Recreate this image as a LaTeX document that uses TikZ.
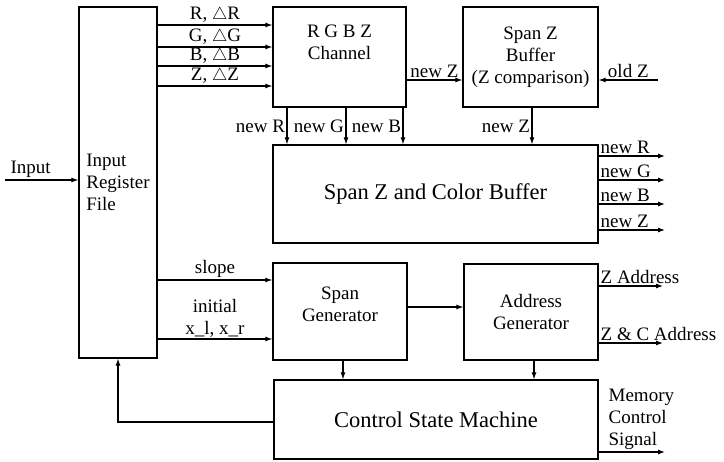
\documentclass[tikz,border=0pt]{standalone}
\usepackage{fontspec}
\setmainfont{Liberation Serif}
\usetikzlibrary{arrows.meta,positioning,calc}

\begin{document}
\begin{tikzpicture}[
  x=1pt, y=-1pt,
  block/.style={
    draw, line width=1.2pt, minimum width=134pt, minimum height=97pt,
    align=center, font=\fontsize{19}{22}\selectfont, inner sep=2pt,
  },
  bigblock/.style={
    block, font=\fontsize{22.5}{26}\selectfont,
  },
  sig/.style={-{Latex[length=7pt,width=5pt]}, line width=1.1pt},
  lbl/.style={font=\fontsize{19}{22}\selectfont, inner sep=1.5pt},
]
\useasboundingbox (0,0) rectangle (724,462);

% Blocks
\node[block, minimum width=78pt, minimum height=351pt, align=left] (irf) at (118,182.5) {Input\\Register\\File};
\node[block, minimum width=133pt, minimum height=100pt, text depth=29pt] (rgbz) at (339.5,57) {R G B Z\\Channel};
\node[block, minimum width=135pt, minimum height=100pt] (szb) at (530.5,57) {Span Z\\Buffer\\(Z comparison)};
\node[bigblock, minimum width=325pt, minimum height=98pt] (scb) at (435.5,194) {Span Z and Color Buffer};
\node[block, text depth=14pt] (sg) at (340,311.5) {Span\\Generator};
\node[block, minimum height=96pt] (ag) at (531,312) {Address\\Generator};
\node[bigblock, minimum width=324pt, minimum height=79pt] (csm) at (436,419.5) {Control State Machine};

% Input
\coordinate (inp) at (5,180);
\draw[sig] (inp) -- (inp -| irf.west) node[lbl, pos=0.35, above] {Input};

% Colour channels
\foreach \y/\c in {25/R, 47/G, 66/B, 86/Z}
  \draw[sig] (irf.east |- 0,\y) -- (rgbz.west |- 0,\y)
    node[lbl, midway, above] {\c, $\triangle$\c};

% Z comparison
\draw[sig] (rgbz.east |- 0,80) -- (szb.west |- 0,80) node[lbl, midway, above] {new Z};
\coordinate (oldz) at (658,80);
\draw[sig] (oldz) -- (oldz -| szb.east) node[lbl, midway, above] {old Z};

% New values into the buffer
\foreach \x/\c in {287/R, 346/G, 403/B}
  \draw[sig] (\x,0 |- rgbz.south) -- (\x,0 |- scb.north) node[lbl, midway, left] {new \c};
\draw[sig] (532,0 |- szb.south) -- (532,0 |- scb.north) node[lbl, midway, left] {new Z};

% Buffer outputs
\foreach \y/\c in {156/R, 180/G, 204/B, 230/Z} {
  \coordinate (out\c) at (665,\y);
  \draw[sig] (out\c -| scb.east) -- (out\c) node[lbl, pos=0, anchor=south west] {new \c};
}

% Span generator inputs
\draw[sig] (irf.east |- 0,280) -- (sg.west |- 0,280) node[lbl, midway, above] {slope};
\draw[sig] (irf.east |- 0,339) -- (sg.west |- 0,339)
  node[lbl, midway, above, align=center] {initial\\x\_l, x\_r};

% Addresses
\draw[sig] (sg.east |- 0,307) -- (ag.west |- 0,307);
\coordinate (zaddr) at (663,286);
\draw[sig] (zaddr -| ag.east) -- (zaddr) node[lbl, pos=0, anchor=south west] {Z Address};
\coordinate (zcaddr) at (663,343);
\draw[sig] (zcaddr -| ag.east) -- (zcaddr) node[lbl, pos=0, anchor=south west] {Z \& C Address};

% Control
\draw[sig] (343,0 |- sg.south) -- (343,0 |- csm.north);
\draw[sig] (534,0 |- ag.south) -- (534,0 |- csm.north);
\draw[sig] (csm.west |- 0,422) -| (irf.south);
\coordinate (mcs) at (665,452);
\draw[sig] (mcs -| csm.east) -- (mcs)
  node[lbl, pos=0, anchor=south west, align=left, xshift=8pt] {Memory\\Control\\Signal};

\end{tikzpicture}
\end{document}
